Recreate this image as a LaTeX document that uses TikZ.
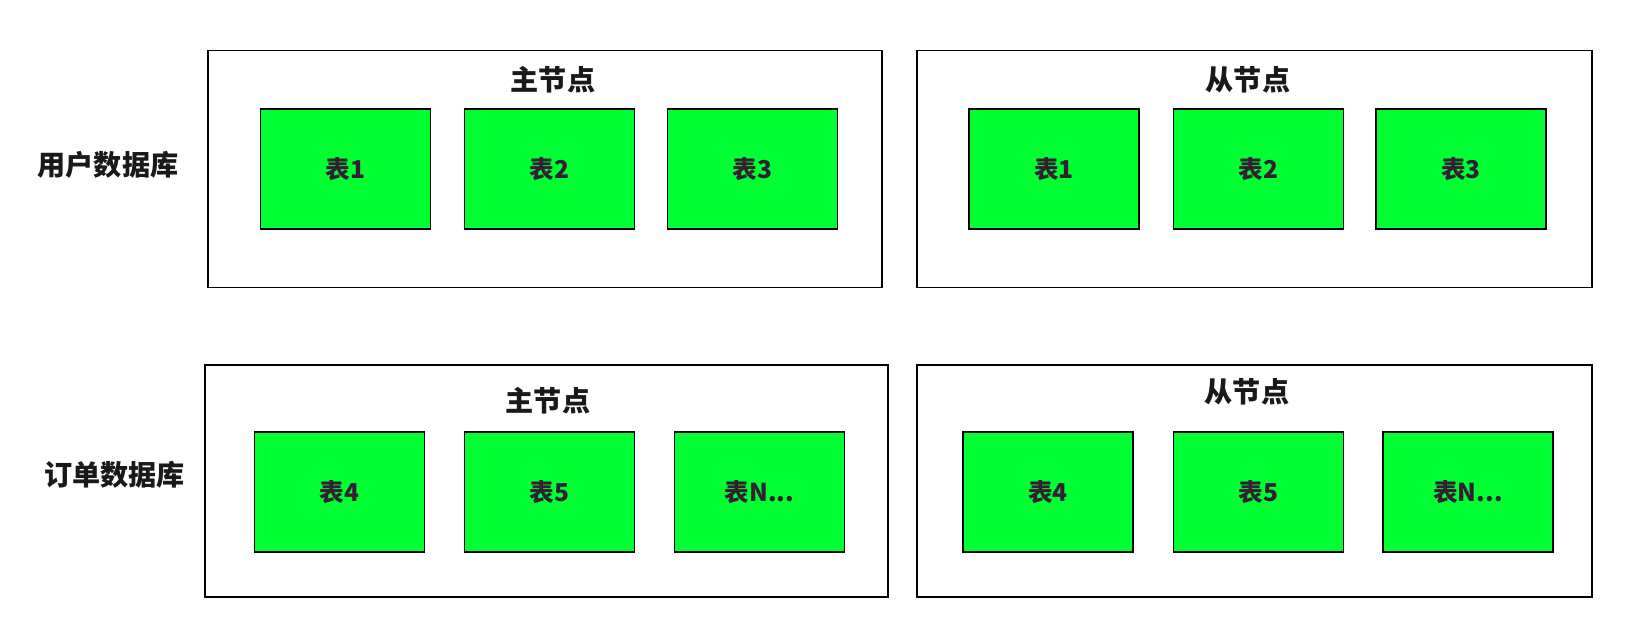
\documentclass[tikz,border=0pt]{standalone}
\usepackage{fontspec}
\newfontfamily\cjk{Noto Sans CJK SC}
\usepackage{tikz}
\definecolor{Gruen}{RGB}{0,255,51}
\definecolor{Schrift}{RGB}{51,30,51}
\tikzstyle{Rahmen}= [draw,line width=1.1pt,fill=white]
\tikzstyle{Tabelle}= [draw,line width=1.1pt,fill=Gruen,minimum width=3.4cm,minimum height=2.4cm,font=\cjk\bfseries\fontsize{14}{16}\selectfont,text=Schrift]
\tikzstyle{Titel}= [font=\cjk\bfseries\fontsize{16}{18}\selectfont,text=black!90]

\begin{document}
\begin{tikzpicture}

		\useasboundingbox (0,0) rectangle (33,12.84);

		\node [Titel] (db1) at (2.16,9.54) {用户数据库};
		\node [Titel] (db2) at (2.29,3.34) {订单数据库};

		\node [Rahmen,minimum width=13.48cm,minimum height=4.74cm] (m1) at (10.9,9.46) {};
		\node [Rahmen,minimum width=13.5cm,minimum height=4.74cm] (s1) at (25.09,9.46) {};
		\node [Rahmen,minimum width=13.66cm,minimum height=4.64cm] (m2) at (10.93,3.22) {};
		\node [Rahmen,minimum width=13.5cm,minimum height=4.64cm] (s2) at (25.09,3.22) {};

		\node [Titel] (mt1) at (11.06,11.24) {主节点};
		\node [Titel] (st1) at (24.96,11.24) {从节点};
		\node [Titel] (mt2) at (10.96,4.82) {主节点};
		\node [Titel] (st2) at (24.94,5.0) {从节点};

		\node [Tabelle] (m1a) at (6.91,9.46) {表1};
		\node [Tabelle] (m1b) at (10.99,9.46) {表2};
		\node [Tabelle] (m1c) at (15.05,9.46) {表3};
		\node [Tabelle] (s1a) at (21.08,9.46) {表1};
		\node [Tabelle] (s1b) at (25.17,9.46) {表2};
		\node [Tabelle] (s1c) at (29.22,9.46) {表3};

		\node [Tabelle] (m2a) at (6.79,3.0) {表4};
		\node [Tabelle] (m2b) at (10.99,3.0) {表5};
		\node [Tabelle] (m2c) at (15.19,3.0) {表N...};
		\node [Tabelle] (s2a) at (20.96,3.0) {表4};
		\node [Tabelle] (s2b) at (25.17,3.0) {表5};
		\node [Tabelle] (s2c) at (29.36,3.0) {表N...};

	\end{tikzpicture}
\end{document}
